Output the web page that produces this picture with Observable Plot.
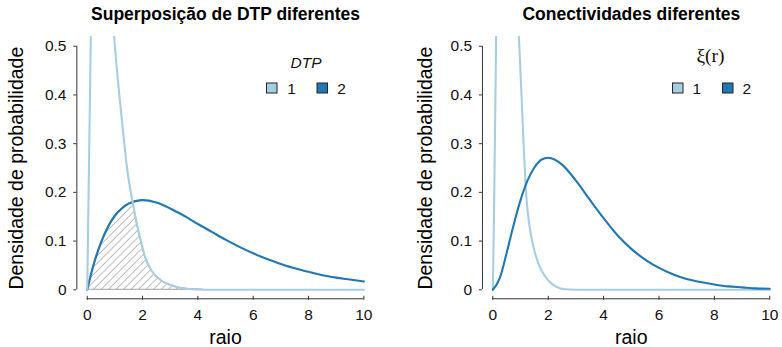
<!DOCTYPE html>
<html><head><meta charset="utf-8">
<script src="https://cdn.jsdelivr.net/npm/d3@7"></script>
<script src="https://cdn.jsdelivr.net/npm/@observablehq/plot@0.6"></script>
<style>
body{margin:0;background:#fff;}
#wrap{position:relative;width:782px;height:347px;overflow:hidden;font-family:"Liberation Sans",Arial,sans-serif;}
#wrap svg{position:absolute;top:0;overflow:visible;}
</style></head>
<body><div id="wrap"></div>
<script>
// ---- data ----
const xTicks = [0, 2, 4, 6, 8, 10];
const yTicks = [0, 0.1, 0.2, 0.3, 0.4, 0.5];
const seriesKeys = ["1", "2"];
const seriesColors = ["#a6cee3", "#1f78b4"];
const panelTitles = ["Superposição de DTP diferentes", "Conectividades diferentes"];
const legendTitles = ["DTP", "ξ(r)"];
const xLabel = "raio";
const yLabel = "Densidade de probabilidade";

// left panel, series 1 (light)
const leftLightX = [0, 0.05, 0.1, 0.13, 0.2, 0.35, 0.5, 0.65, 0.8, 0.9, 0.96, 1.0, 1.16, 1.34, 1.45, 1.56, 1.64, 1.8, 1.94, 2.1, 2.34, 2.7, 3.1, 3.6, 4.2, 5, 6, 7, 8, 9, 10];
const leftLightY = [0, 0.2, 0.4, 0.52, 0.68, 0.8, 0.82, 0.76, 0.65, 0.57, 0.53, 0.5, 0.4, 0.3, 0.245, 0.205, 0.18, 0.134, 0.1, 0.066, 0.038, 0.018, 0.008, 0.002, 0, 0, 0, 0, 0, 0, 0];
// left panel, series 2 (dark)
const leftDarkX = [0, 0.25, 0.5, 0.75, 1, 1.25, 1.5, 1.64, 1.75, 2, 2.5, 3, 3.5, 4, 4.5, 5, 5.5, 6, 6.5, 7, 7.5, 8, 8.5, 9, 9.5, 10];
const leftDarkY = [0, 0.055, 0.097, 0.129, 0.152, 0.167, 0.177, 0.18, 0.182, 0.184, 0.179, 0.167, 0.152, 0.135, 0.119, 0.103, 0.088, 0.075, 0.063, 0.053, 0.044, 0.037, 0.030, 0.025, 0.021, 0.017];
// right panel, series 1 (light)
const rightLightX = [0, 0.04, 0.08, 0.12, 0.2, 0.35, 0.5, 0.65, 0.8, 0.9, 0.95, 1.035, 1.11, 1.18, 1.25, 1.42, 1.66, 2.02, 2.3, 2.6, 3, 4, 5, 6, 7, 8, 9, 10];
const rightLightY = [0, 0.15, 0.33, 0.52, 0.8, 1.0, 1.05, 0.95, 0.72, 0.58, 0.507, 0.4, 0.3, 0.216, 0.165, 0.1, 0.052, 0.018, 0.006, 0.001, 0, 0, 0, 0, 0, 0, 0, 0];
// right panel, series 2 (dark)
const rightDarkX = [0, 0.25, 0.5, 0.75, 1, 1.25, 1.5, 1.75, 2, 2.5, 3, 3.5, 4, 4.5, 5, 5.5, 6, 6.5, 7, 7.5, 8, 8.5, 9, 9.5, 10];
const rightDarkY = [0, 0.024, 0.076, 0.133, 0.184, 0.224, 0.251, 0.267, 0.271, 0.257, 0.224, 0.185, 0.147, 0.112, 0.084, 0.062, 0.045, 0.032, 0.022, 0.016, 0.011, 0.007, 0.005, 0.003, 0.002];
// crossing point of the two left curves (end of the hatched overlap under dark)
const leftCrossX = 1.64;

const rows = (xs, ys) => xs.map((x, i) => ({x, y: ys[i]}));
const hatchRows = rows(leftDarkX, leftDarkY).filter(d => d.x <= leftCrossX)
  .concat(rows(leftLightX, leftLightY).filter(d => d.x > leftCrossX && d.x <= 4.2));

const FONT = '"Liberation Sans", Arial, sans-serif';

function panel(cfg) {
  const marks = [];
  if (cfg.hatch) {
    marks.push(Plot.areaY(cfg.hatch, {x: "x", y: "y", fill: "url(#hatch)", stroke: "#a0a0a0", strokeWidth: 1, curve: "monotone-x", clip: true}));
  }
  const lines = [
    Plot.line(cfg.light, {x: "x", y: "y", stroke: seriesColors[0], strokeWidth: 2.1, curve: "monotone-x", clip: true}),
    Plot.line(cfg.dark, {x: "x", y: "y", stroke: seriesColors[1], strokeWidth: 2.1, curve: "monotone-x", clip: true})
  ];
  if (cfg.lightOnTop) lines.reverse();
  marks.push(...lines);
  marks.push(
    Plot.ruleY([yTicks[0]], {y: d => d, x1: xTicks[0], x2: xTicks[xTicks.length - 1], dy: 9, stroke: "#333"}),
    Plot.ruleX([xTicks[0]], {x: d => d, y1: yTicks[0], y2: yTicks[yTicks.length - 1], dx: -10.4, stroke: "#333"}),
    Plot.axisX(xTicks, {tickSize: 4, dy: -2.5, tickPadding: 8.5, fontSize: 15.5, stroke: "#333", fill: "#111", label: null, tickFormat: d => String(d)}),
    Plot.axisY(yTicks, {tickSize: 3, tickPadding: 7.3, fontSize: 15.5, stroke: "#333", fill: "#111", label: null, tickFormat: d => d === 0 ? "0" : d.toFixed(1)}),
    Plot.text([cfg.title], {text: d => d, frameAnchor: "top", textAnchor: "middle", lineAnchor: "bottom", dy: -16.5, fontSize: 17.5, fontWeight: "bold", fill: "#000"}),
    Plot.text([xLabel], {text: d => d, frameAnchor: "bottom", textAnchor: "middle", lineAnchor: "bottom", dy: 45.2, fontSize: 19.5, fill: "#000"}),
    Plot.text([yLabel], {text: d => d, frameAnchor: "left", textAnchor: "middle", lineAnchor: "middle", rotate: -90, dx: cfg.yLabelDx, dy: 0.5, fontSize: 19.5, fill: "#000"})
  );
  const svg = Plot.plot({
    width: 391, height: 347,
    marginLeft: cfg.marginLeft, marginRight: cfg.marginRight, marginTop: 36, marginBottom: 48.7,
    style: {fontFamily: FONT, background: "transparent"},
    x: {domain: [-0.377, 10.377]},
    y: {domain: [-0.0185, 0.52]},
    marks
  });
  svg.style.left = cfg.left + "px";
  const s = d3.select(svg);
  if (cfg.hatch) {
    const p = s.insert("defs", ":first-child").append("pattern")
      .attr("id", "hatch").attr("patternUnits", "userSpaceOnUse")
      .attr("width", 5.3).attr("height", 5.3).attr("patternTransform", "rotate(45)");
    p.append("line").attr("x1", 0).attr("y1", 0).attr("x2", 0).attr("y2", 5.3)
      .attr("stroke", "#9c9c9c").attr("stroke-width", 1.3);
  }
  // legend
  const L = cfg.legend;
  const g = s.append("g").attr("font-family", FONT);
  g.append("text").attr("x", L.titleX).attr("y", L.titleY).attr("text-anchor", "middle")
    .attr("font-size", L.titleSize).attr("font-style", L.titleItalic ? "italic" : null)
    .attr("font-family", L.titleFont).attr("fill", "#111").text(cfg.legendTitle);
  seriesKeys.forEach((k, i) => {
    g.append("rect").attr("x", L.swatchX[i]).attr("y", 83).attr("width", 10.5).attr("height", 10)
      .attr("fill", seriesColors[i]).attr("stroke", "#222").attr("stroke-width", 1);
    g.append("text").attr("x", L.labelX[i]).attr("y", 93.5).attr("font-size", 15.5)
      .attr("fill", "#111").text(k);
  });
  return svg;
}

const wrap = document.getElementById("wrap");
wrap.appendChild(panel({
  left: 0, marginLeft: 76.3, marginRight: 17.2, yLabelDx: -59.6,
  title: panelTitles[0], legendTitle: legendTitles[0],
  light: rows(leftLightX, leftLightY), dark: rows(leftDarkX, leftDarkY), hatch: hatchRows, lightOnTop: true,
  legend: {titleX: 306, titleY: 67.5, titleSize: 15.5, titleItalic: true, titleFont: FONT,
           swatchX: [266.5, 317], labelX: [291.5, 341.5]}
}));
wrap.appendChild(panel({
  left: 391, marginLeft: 90.9, marginRight: 2.3, yLabelDx: -56.9,
  title: panelTitles[1], legendTitle: legendTitles[1],
  light: rows(rightLightX, rightLightY), dark: rows(rightDarkX, rightDarkY), hatch: null, lightOnTop: false,
  legend: {titleX: 319.5, titleY: 62, titleSize: 19.5, titleItalic: false, titleFont: '"Liberation Serif", "DejaVu Serif", serif',
           swatchX: [281.5, 331.5], labelX: [305.7, 355.7]}
}));
</script>
</body></html>
